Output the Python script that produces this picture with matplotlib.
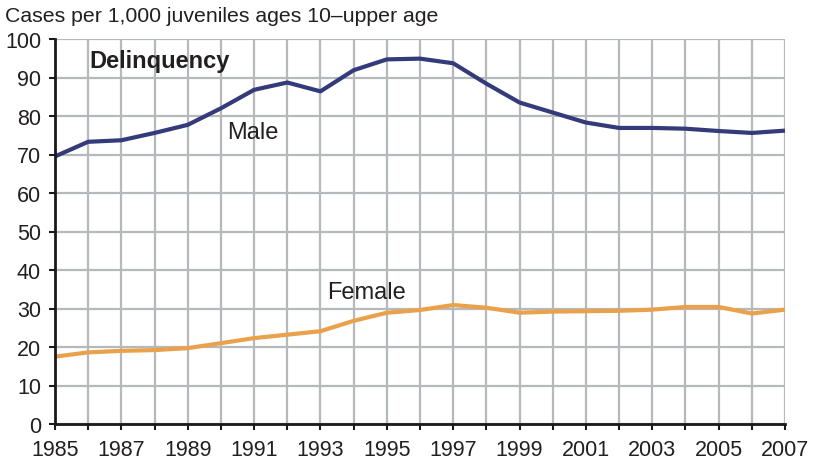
import numpy as np
import matplotlib.pyplot as plt

plt.rcParams['font.family'] = ['Liberation Sans', 'DejaVu Sans']

years = list(range(1985, 2008))
male = [69.5, 73.3, 73.7, 75.6, 77.7, 82.0, 86.8, 88.7, 86.4, 91.9, 94.7, 94.9,
        93.7, 88.4, 83.5, 80.9, 78.3, 76.9, 76.9, 76.7, 76.1, 75.6, 76.2]
female = [17.5, 18.6, 19.0, 19.2, 19.7, 21.0, 22.3, 23.2, 24.1, 26.8, 28.9, 29.6,
          30.9, 30.2, 28.9, 29.2, 29.3, 29.4, 29.7, 30.4, 30.4, 28.7, 29.7]
y_ticks = list(range(0, 101, 10))
x_labels = [str(y) if (y - 1985) % 2 == 0 else "" for y in years]

fig = plt.figure(figsize=(8.22, 4.6), dpi=100)
ax = fig.add_axes([55 / 822, 35 / 460, 730 / 822, 385 / 460])

grid_col = "#b6b9bc"
ax.set_xlim(1985, 2007)
ax.set_ylim(0, 100)
ax.set_xticks(years)
ax.set_xticklabels(x_labels)
ax.set_yticks(y_ticks)
ax.grid(True, color=grid_col, linewidth=1.6)
ax.set_axisbelow(True)

for side in ["top", "right"]:
    ax.spines[side].set_visible(False)
for side in ["left", "bottom"]:
    ax.spines[side].set_linewidth(2)
    ax.spines[side].set_color("#1a1a1a")

ax.tick_params(axis="both", direction="out", length=4, width=1.5, color="#1a1a1a",
               labelsize=15.5, labelcolor="#231f20")
ax.tick_params(axis="y", pad=6)
ax.tick_params(axis="x", pad=6.5)

ax.plot(years, male, color="#343a7a", linewidth=3, solid_capstyle="butt", clip_on=False)
ax.plot(years, female, color="#e9a24b", linewidth=3, solid_capstyle="butt", clip_on=False)

ax.text(1986.05, 94.3, "Delinquency", fontsize=17, fontweight="bold", color="#231f20",
        va="center", ha="left")
ax.text(1990.2, 75.8, "Male", fontsize=17, color="#231f20", va="center", ha="left")
ax.text(1993.2, 34.3, "Female", fontsize=17, color="#231f20", va="center", ha="left")

fig.text(5 / 822, 1 - 16 / 460, "Cases per 1,000 juveniles ages 10\u2013upper age",
         fontsize=15.3, color="#231f20", va="center", ha="left")

fig.savefig("out.png", dpi=100)
